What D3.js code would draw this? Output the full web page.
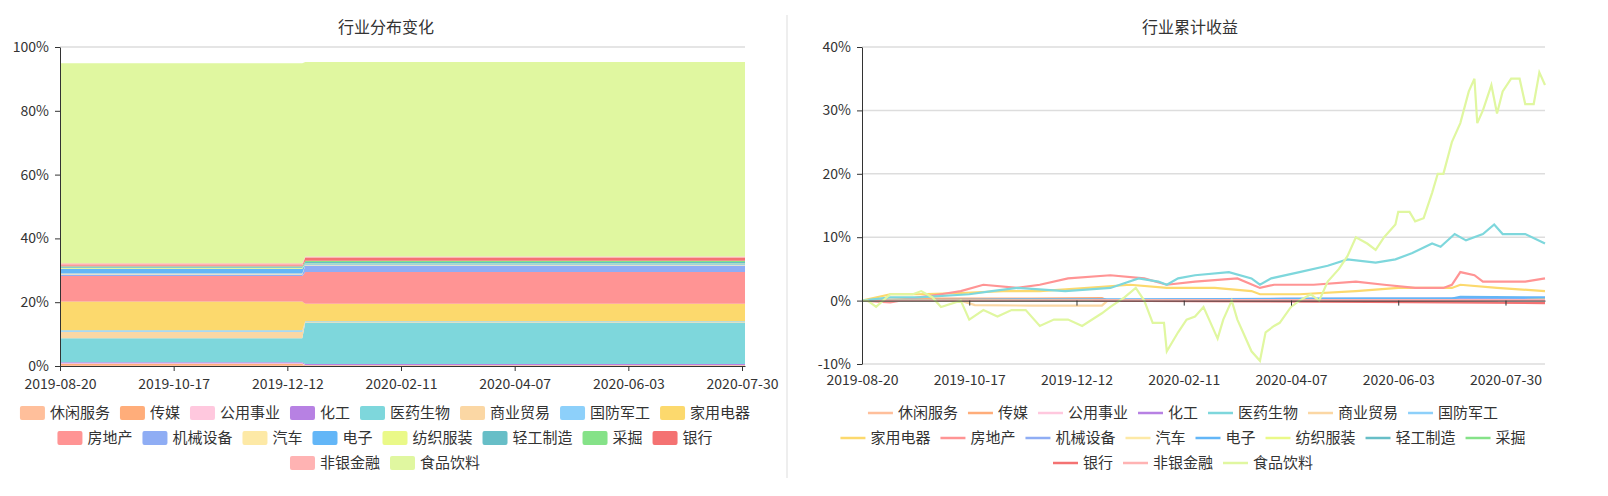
<!DOCTYPE html>
<html><head><meta charset="utf-8">
<script src="https://cdn.jsdelivr.net/npm/d3@7"></script>
<style>body{margin:0;background:#fff}text{font-family:"Microsoft YaHei","Noto Sans CJK SC",sans-serif}</style>
</head><body><svg id="c" width="1608" height="496"></svg>
<script>
const industries=["休闲服务","传媒","公用事业","化工","医药生物","商业贸易","国防军工","家用电器","房地产","机械设备","汽车","电子","纺织服装","轻工制造","采掘","银行","非银金融","食品饮料"];
const colors=["#ffbf9b","#ffad7a","#ffc8de","#b781e3","#7ed7dc","#fbd7a4","#8dd0fa","#fcd96d","#ff9494","#8fadf4","#fde9a6","#63b6f7","#eaf988","#67bec7","#85e288","#f47272","#ffb3b3","#e0f7a0"];
// weights (%) for first period (before rebalance) and second period
const weightP1=[0.3,0.3,0.3,0.3,7.5,2.0,0.5,9.0,8.0,0.5,0.3,1.5,0.3,0.3,0.2,0.3,0.6,62.7];
const weightP2=[0.1,0.1,0.1,0.3,13.0,0.2,0.2,5.5,10.0,2.0,0.2,0.2,0.2,0.5,0.4,1.0,0.3,61.0];
const breakIndex=82;
const nLeft=230;
const tickLabels=["2019-08-20","2019-10-17","2019-12-12","2020-02-11","2020-04-07","2020-06-03","2020-07-30"];
const tickIdx=[0,38,76,114,152,190,228];
const nRight=243;
// cumulative return series: [index, value%]
const retFood=[[0,0],[2,0],[5,-1],[10,1],[18,1],[21,1.5],[25,0.5],[28,-1],[35,0],[38,-3],[43,-1.5],[48,-2.5],[53,-1.5],[58,-1.5],[63,-4],[68,-3],[73,-3],[78,-4],[85,-2],[88,-1],[93,0.5],[97,2],[100,0],[103,-3.5],[107,-3.5],[108,-8],[112,-5],[115,-3],[118,-2.5],[121,-1],[123,-3],[126,-6],[128,-3],[131,0],[133,-3],[135,-5],[138,-8],[141,-9.5],[143,-5],[146,-4],[148,-3.5],[152,-1],[155,0],[159,1],[162,0],[165,3],[169,5],[172,7],[175,10],[179,9],[182,8],[185,10],[189,12],[190,14],[194,14],[196,12.5],[199,13],[202,17],[204,20],[206,20],[209,25],[212,28],[215,33],[217,35],[218,28],[220,30],[223,34],[225,29.5],[227,33],[230,35],[233,35],[235,31],[238,31],[240,36],[242,34]];
const retPharma=[[0,0],[10,0.5],[20,0.5],[38,1],[46,1.5],[55,2],[72,1.5],[88,2],[98,3.5],[105,3],[108,2.5],[112,3.5],[118,4],[130,4.5],[138,3.5],[141,2.5],[145,3.5],[155,4.5],[165,5.5],[172,6.5],[182,6],[189,6.5],[195,7.5],[202,9],[205,8.5],[210,10.5],[214,9.5],[220,10.5],[224,12],[227,10.5],[235,10.5],[242,9]];
const retRealty=[[0,0],[10,-0.3],[20,0.5],[28,1],[35,1.5],[43,2.5],[55,2],[63,2.5],[73,3.5],[88,4],[100,3.5],[108,2.5],[118,3],[133,3.5],[141,2],[146,2.5],[160,2.5],[175,3],[185,2.5],[196,2],[206,2],[209,2.5],[212,4.5],[217,4],[220,3],[227,3],[235,3],[242,3.5]];
const retAppliance=[[0,0],[10,1],[20,1],[35,1.2],[50,1.5],[63,1.5],[80,2],[95,2.5],[108,2],[125,2],[138,1.5],[141,1],[155,1],[175,1.5],[190,2],[209,2],[212,2.5],[225,2],[242,1.5]];
const retTrade=[[0,0],[35,0],[40,-0.7],[60,-0.8],[85,-0.8],[87,0]];
const retMedia=[[0,0],[20,0.3],[60,0.3],[85,0.4],[87,0]];
const retElec=[[0,0],[60,0.2],[120,0.2],[180,0.3],[209,0.3],[212,0.6],[242,0.5]];
const retMach=[[82,0],[110,0.2],[150,0.3],[200,0.3],[242,0.4]];
const retBank=[[82,0],[120,-0.1],[180,-0.2],[242,-0.4]];
const retFlat=[[0,0],[242,0.1]];
const retSeries={"食品饮料":retFood,"医药生物":retPharma,"房地产":retRealty,"家用电器":retAppliance,"商业贸易":retTrade,"传媒":retMedia,"电子":retElec,"机械设备":retMach,"银行":retBank};
const yTicksLeft=[0,20,40,60,80,100];
const yTicksRight=[-10,0,10,20,30,40];

const svg=d3.select("#c");
const col=i=>colors[i];
svg.append("line").attr("x1",787).attr("x2",787).attr("y1",15).attr("y2",478).attr("stroke","#ddd");

function styleAxis(a){a.selectAll("text").attr("font-size",14).attr("fill","#333");a.selectAll("line,path").attr("stroke","#333");return a;}

// LEFT
const xL=d3.scaleLinear().domain([0,nLeft-1]).range([60,745]);
const yL=d3.scaleLinear().domain([0,100]).range([366,47]);
const rows=d3.range(nLeft).map(i=>{const o={};industries.forEach((k,j)=>o[k]=(i<breakIndex?weightP1:weightP2)[j]);return o;});
const stacked=d3.stack().keys(industries)(rows);
yTicksLeft.forEach(t=>svg.append("line").attr("x1",60).attr("x2",745).attr("y1",yL(t)).attr("y2",yL(t)).attr("stroke","#ddd").attr("stroke-width",1.5));
svg.append("g").selectAll("path").data(stacked).join("path")
 .attr("fill",(d,i)=>col(i)).attr("d",d3.area().x((d,i)=>xL(i)).y0(d=>yL(d[0])).y1(d=>yL(d[1])));
styleAxis(svg.append("g").attr("transform","translate(60,0)").call(d3.axisLeft(yL).tickValues(yTicksLeft).tickFormat(d=>d+"%").tickSize(5).tickPadding(6).tickSizeOuter(0)));
styleAxis(svg.append("g").attr("transform","translate(0,366)").call(d3.axisBottom(xL).tickValues(tickIdx).tickFormat((d,i)=>tickLabels[i]).tickSize(5).tickPadding(5).tickSizeOuter(0))).selectAll("text").attr("dy","0.9em");

// RIGHT
const xR=d3.scaleLinear().domain([0,nRight-1]).range([862,1545]);
const yR=d3.scaleLinear().domain([-10,40]).range([364,47]);
yTicksRight.forEach(t=>svg.append("line").attr("x1",862).attr("x2",1545).attr("y1",yR(t)).attr("y2",yR(t)).attr("stroke","#ddd").attr("stroke-width",1.5));
const line=d3.line().x(d=>xR(d[0])).y(d=>yR(d[1]));
const order=industries.filter(k=>k!=="食品饮料"&&k!=="医药生物").concat(["医药生物","食品饮料"]);
order.forEach(k=>{const data=retSeries[k]||retFlat;const i=industries.indexOf(k);
  svg.append("path").attr("d",line(data)).attr("fill","none").attr("stroke",col(i)).attr("stroke-width",2.2);});
styleAxis(svg.append("g").attr("transform","translate(862,0)").call(d3.axisLeft(yR).tickValues(yTicksRight).tickFormat(d=>d+"%").tickSize(5).tickPadding(6).tickSizeOuter(0)));
styleAxis(svg.append("g").attr("transform",`translate(0,${yR(0)})`).call(d3.axisBottom(xR).tickValues(tickIdx).tickFormat("").tickSize(5).tickSizeOuter(0)));
{const xb=svg.append("g").attr("transform","translate(0,364)").call(d3.axisBottom(xR).tickValues(tickIdx).tickFormat((d,i)=>tickLabels[i]).tickSize(0).tickPadding(8).tickSizeOuter(0));
 xb.select(".domain").remove();xb.selectAll("text").attr("font-size",14).attr("fill","#333").attr("dy","0.9em");}

// titles
svg.append("text").attr("x",386).attr("y",33).attr("text-anchor","middle").attr("font-size",16).attr("fill","#333").text("行业分布变化");
svg.append("text").attr("x",1190).attr("y",33).attr("text-anchor","middle").attr("font-size",16).attr("fill","#333").text("行业累计收益");

// legends
function legend(cx,y0,maxW,type){
  const fs=15;
  const tmp=svg.append("text").attr("font-size",fs);
  const items=industries.map((k,i)=>{tmp.text(k);return {k,i,w:25+5+tmp.node().getComputedTextLength()};});
  tmp.remove();
  const rowsL=[];let cur=[],w=0;
  items.forEach(it=>{const add=(cur.length?10:0)+it.w;if(w+add>maxW&&cur.length){rowsL.push({cur,w});cur=[it];w=it.w;}else{cur.push(it);w+=add;}});
  rowsL.push({cur,w});
  rowsL.forEach((r,ri)=>{let x=cx-r.w/2;const y=y0+ri*25;
    r.cur.forEach(it=>{
      if(type==="rect")svg.append("rect").attr("x",x).attr("y",y-7).attr("width",25).attr("height",14).attr("rx",2).attr("fill",col(it.i));
      else svg.append("line").attr("x1",x).attr("x2",x+25).attr("y1",y).attr("y2",y).attr("stroke",col(it.i)).attr("stroke-width",2.5);
      svg.append("text").attr("x",x+30).attr("y",y).attr("dy","0.35em").attr("font-size",fs).attr("fill","#333").text(it.k);
      x+=it.w+10;});
  });
}
legend(385,413,750,"rect");
legend(1183,413,730,"line");
</script></body></html>
